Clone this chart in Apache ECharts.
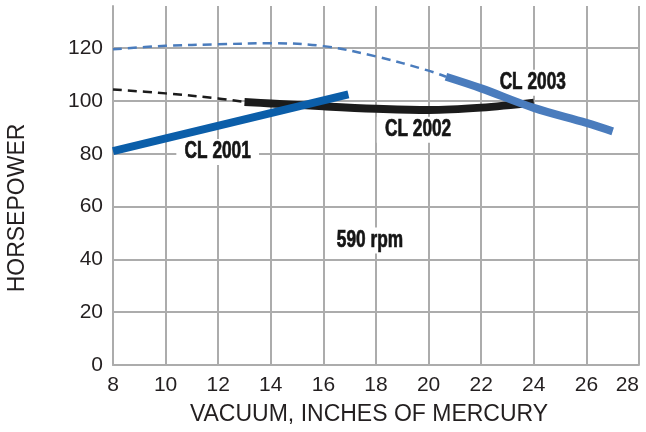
<!DOCTYPE html>
<html><head><meta charset="utf-8">
<script src="https://cdn.jsdelivr.net/npm/echarts@6/dist/echarts.min.js"></script>
<style>html,body{margin:0;padding:0;background:#fff}#c{width:646px;height:432px}</style>
</head><body><div id="c"></div>
<script>
// ---- data ----
const xTickValues = [8, 10, 12, 14, 16, 18, 20, 22, 24, 26, 28];
const yTickValues = [0, 20, 40, 60, 80, 100, 120];
const cl2001 = [[8, 81], [16.95, 102.5]];
const cl2002Dashed = [[8, 104.4], [10, 102.9], [12, 101], [13, 99.6]];
const cl2002 = [[13, 99.6], [14, 99.1], [16, 98], [18, 97.1], [20, 96.6], [22, 97.5], [24, 99.4]];
const cl2003Dashed = [[8, 119.6], [10, 120.9], [12, 121.5], [14, 121.9], [16, 120.8], [18, 116.9], [20, 111.5], [20.66, 109.2]];
const cl2003 = [[20.66, 109.2], [22, 104.8], [24, 97.4], [26, 91.7], [27, 88.5]];
const labelTexts = ['CL 2001', 'CL 2002', 'CL 2003', '590 rpm'];
const labelAnchors = [[11.98, 80.7], [19.6, 89.1], [23.96, 106.9], [17.77, 47.2]];
const xAxisTitle = 'VACUUM, INCHES OF MERCURY';
const yAxisTitle = 'HORSEPOWER';

// ---- chart ----
const chart = echarts.init(document.getElementById('c'), null, {renderer: 'canvas'});
const gridColor = '#acacac';
const txtColor = '#231f20';
const blueDark = '#0b5ea9';
const blueLight = '#4a7cbd';
const black = '#1b1b1b';
const sansFont = '"Liberation Sans", Arial, sans-serif';

const yMax = 136;
const ySplitColors = yTickValues.map(() => gridColor).concat(['rgba(0,0,0,0)']);

function lineSeries(data, color, width, dashed, z) {
  return {
    type: 'line', data: data, smooth: 0.35, symbol: 'none', z: z,
    lineStyle: {color: color, width: width, type: dashed ? [9, 6] : 'solid', cap: 'butt', join: 'round'},
    emphasis: {disabled: true}, silent: true, animation: false
  };
}

chart.setOption({
  animation: false,
  backgroundColor: '#ffffff',
  grid: {left: 113, right: 7, top: 6, bottom: 67},
  xAxis: {
    type: 'value', min: 8, max: 28, interval: 2,
    axisLine: {show: true, lineStyle: {color: gridColor, width: 2}},
    axisTick: {show: false},
    splitLine: {show: true, lineStyle: {color: gridColor, width: 2}},
    axisLabel: {
      fontSize: 21, color: txtColor, fontFamily: sansFont, margin: 10,
      alignMaxLabel: 'right',
      formatter: v => (xTickValues.indexOf(v) >= 0 ? String(v) : '')
    }
  },
  yAxis: {
    type: 'value', min: 0, max: yMax, interval: 20,
    axisLine: {show: true, lineStyle: {color: gridColor, width: 2}},
    axisTick: {show: false},
    splitLine: {show: true, lineStyle: {color: ySplitColors, width: 2}},
    axisLabel: {
      fontSize: 21, color: txtColor, fontFamily: sansFont, margin: 10,
      formatter: v => (yTickValues.indexOf(v) >= 0 ? String(v) : '')
    }
  },
  graphic: [
    {type: 'text', x: 369, y: 415, style: {text: xAxisTitle, fill: txtColor, font: '23px ' + sansFont, align: 'center', verticalAlign: 'middle'}},
    {type: 'text', x: 18, y: 208, rotation: Math.PI / 2, style: {text: yAxisTitle, fill: txtColor, font: '23px ' + sansFont, align: 'center', verticalAlign: 'middle'}}
  ],
  series: [
    {
      type: 'custom', z: 1, silent: true, animation: false,
      data: labelAnchors,
      encode: {x: 0, y: 1},
      renderItem: function (params, api) {
        const pt = api.coord([api.value(0), api.value(1)]);
        return {
          type: 'text', x: pt[0], y: pt[1], scaleX: 0.75,
          style: {
            text: labelTexts[params.dataIndex],
            font: 'bold 23px "Liberation Sans", Arial, sans-serif',
            fill: '#151515', stroke: '#151515', lineWidth: 0.7,
            align: 'center', verticalAlign: 'middle',
            backgroundColor: '#ffffff', padding: [2, 11, 1, 11]
          }
        };
      }
    },
    lineSeries(cl2002Dashed, black, 2.5, true, 2),
    lineSeries(cl2002, black, 8, false, 3),
    lineSeries(cl2003Dashed, blueLight, 2.5, true, 2),
    lineSeries(cl2003, blueLight, 8, false, 4),
    lineSeries(cl2001, blueDark, 8, false, 5)
  ]
});
</script></body></html>
